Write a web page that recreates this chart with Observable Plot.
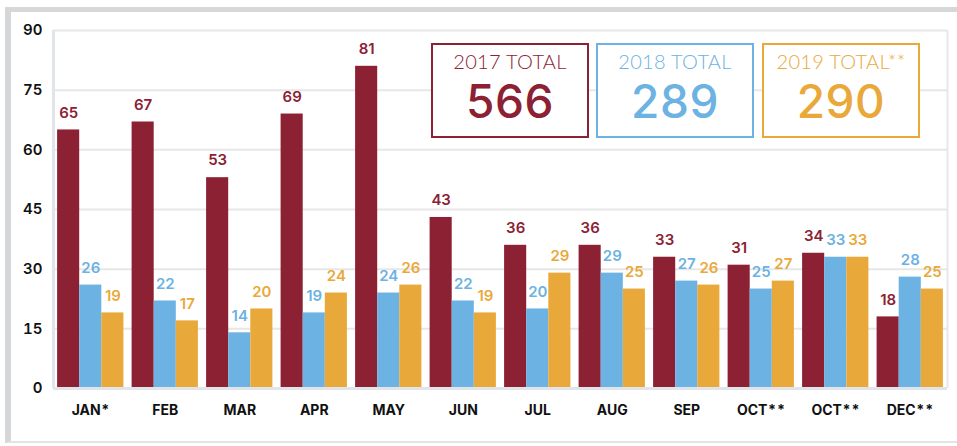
<!DOCTYPE html>
<html>
<head>
<meta charset="utf-8">
<script src="https://cdn.jsdelivr.net/npm/d3@7"></script>
<script src="https://cdn.jsdelivr.net/npm/@observablehq/plot@0.6"></script>
<style>
  html, body { margin: 0; padding: 0; background: #fff; }
  #wrap { position: relative; width: 957px; height: 446px; overflow: hidden; font-family: Inter, "Open Sans", sans-serif; }
  #outer { position: absolute; left: 5px; top: 7px; width: 952px; height: 436px;
           border-top: 5px solid #d6d7d8; border-left: 6px solid #d6d7d8; border-bottom: 2px solid #e4e4e4; box-sizing: border-box; }
  #chart { position: absolute; left: 0; top: 0; }
  .total { position: absolute; box-sizing: border-box; border: 2.5px solid; background: #fff; text-align: center; }
  .total .lab { position: absolute; left: 0; right: 0; top: 6px; font-family: Lato, sans-serif; font-weight: 300; font-size: 20px; line-height: 1; letter-spacing: 0.3px; white-space: nowrap; }
  .total .num { position: absolute; left: 0; right: 0; top: 38px; font-family: Inter, sans-serif; font-weight: 500; font-size: 46px; line-height: 0.8; letter-spacing: 0.5px; white-space: nowrap; }
  g[aria-label^="x-axis"] text { font-weight: 700; font-size: 14px; fill: #111; }
  g[aria-label^="y-axis"] text { font-weight: 600; font-size: 15px; fill: #111; }
</style>
</head>
<body>
<div id="wrap">
  <div id="outer"></div>
  <div id="chart"></div>
</div>
<script>
const months = ["JAN*", "FEB", "MAR", "APR", "MAY", "JUN", "JUL", "AUG", "SEP", "OCT**", "OCT**", "DEC**"];
const years = ["2017", "2018", "2019"];
const colors = ["#8b2133", "#6cb2e2", "#e9a93a"];
const v2017 = [65, 67, 53, 69, 81, 43, 36, 36, 33, 31, 34, 18];
const v2018 = [26, 22, 14, 19, 24, 22, 20, 29, 27, 25, 33, 28];
const v2019 = [19, 17, 20, 24, 26, 19, 29, 25, 26, 27, 33, 25];
const totalLabels = ["2017 TOTAL", "2018 TOTAL", "2019 TOTAL**"];
const totals = [566, 289, 290];
const yTicks = [0, 15, 30, 45, 60, 75, 90];

// layout constants (styles)
const GROUP = 0.89;
const BAR = GROUP / 3;

const series = [v2017, v2018, v2019];
const rows = [];
months.forEach((m, i) => {
  series.forEach((vals, k) => {
    const x1 = i - GROUP / 2 + k * BAR;
    rows.push({i, k, year: years[k], value: vals[i], x1, x2: x1 + BAR, xm: x1 + BAR / 2});
  });
});

const chart = Plot.plot({
  width: 957,
  height: 446,
  marginLeft: 53,
  marginRight: 10,
  marginTop: 30,
  marginBottom: 58,
  style: {background: "transparent", fontFamily: "Inter, 'Open Sans', sans-serif", overflow: "visible"},
  x: {type: "linear", domain: [-0.5, 11.5], ticks: d3.range(12), tickFormat: i => months[i], tickSize: 0, tickPadding: 17, label: null},
  y: {domain: [0, 90], ticks: yTicks, tickSize: 0, tickPadding: 11, label: null},
  color: {domain: years, range: colors},
  marks: [
    Plot.ruleY(yTicks.slice(1), {stroke: "#e7e7e7", strokeWidth: 2}),
    Plot.ruleX([11.5], {stroke: "#e7e7e7", strokeWidth: 2}),
    Plot.rectY(rows, {x1: "x1", x2: "x2", y1: 0, y2: "value", fill: "year"}),
    Plot.ruleY([0], {stroke: "#e1e4e8", strokeWidth: 3}),
    Plot.ruleX([-0.5], {stroke: "#e1e4e8", strokeWidth: 3}),
    Plot.text(rows, {x: "xm", y: "value", text: d => String(d.value), fill: "year", dy: -17,
      fontSize: 15, fontWeight: 600, fontFamily: "Inter, sans-serif"})
  ]
});
document.getElementById("chart").appendChild(chart);

// totals boxes
const boxLeft = [431, 596, 762];
const wrap = document.getElementById("wrap");
totals.forEach((t, k) => {
  const d = document.createElement("div");
  d.className = "total";
  d.style.left = boxLeft[k] + "px";
  d.style.top = "43px";
  d.style.width = "158px";
  d.style.height = "95px";
  d.style.borderColor = colors[k];
  d.style.color = colors[k];
  d.innerHTML = `<div class="lab">${totalLabels[k]}</div><div class="num">${t}</div>`;
  wrap.appendChild(d);
});
</script>
</body>
</html>
